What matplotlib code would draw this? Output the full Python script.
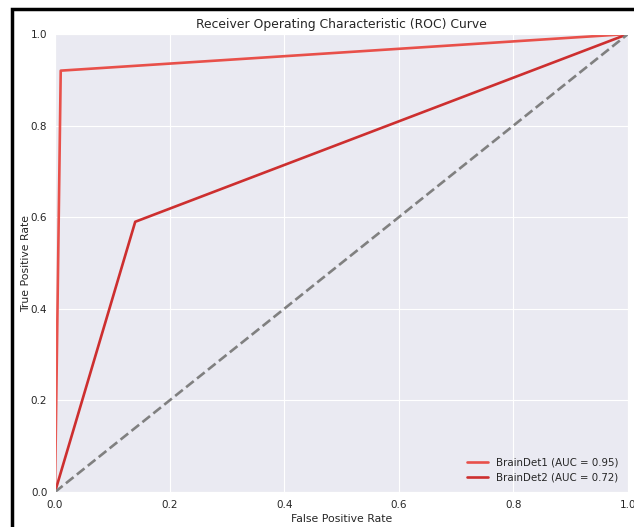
import matplotlib
matplotlib.use('Agg')
import matplotlib.pyplot as plt
import seaborn as sns
from matplotlib.patches import Rectangle

sns.set_style('darkgrid')

# ROC points
fpr1 = [0.0, 0.01, 1.0]
tpr1 = [0.0, 0.92, 1.0]
fpr2 = [0.0, 0.14, 1.0]
tpr2 = [0.0, 0.59, 1.0]
auc1 = 0.95
auc2 = 0.72
ticks = [0.0, 0.2, 0.4, 0.6, 0.8, 1.0]

fig = plt.figure(figsize=(6.34, 5.27), dpi=100)
ax = fig.add_axes([55 / 634, 35 / 527, 573 / 634, 458 / 527])

ax.plot(fpr1, tpr1, color='#e8504a', lw=1.9, label=f'BrainDet1 (AUC = {auc1:.2f})')
ax.plot(fpr2, tpr2, color='#cd2f2f', lw=1.9, label=f'BrainDet2 (AUC = {auc2:.2f})')
ax.plot([0, 1], [0, 1], color='gray', lw=1.9, ls='--')

ax.set_xlim(0, 1)
ax.set_ylim(0, 1)
ax.set_xticks(ticks)
ax.set_yticks(ticks)
ax.tick_params(labelsize=7.5, pad=2)
ax.set_xlabel('False Positive Rate', fontsize=7.8, labelpad=3)
ax.set_ylabel('True Positive Rate', fontsize=7.8, labelpad=0)
ax.set_title('Receiver Operating Characteristic (ROC) Curve', fontsize=8.9, pad=4)
ax.legend(loc='lower right', fontsize=7.4, frameon=False, borderaxespad=0.5)

# black frame around the screenshot
fig.patches.append(Rectangle((12 / 634, -0.01), 1.2, (527 - 9) / 527 + 0.01,
                             transform=fig.transFigure, fill=False,
                             edgecolor='black', lw=2.5, zorder=10))

fig.savefig('out.png', dpi=100)
